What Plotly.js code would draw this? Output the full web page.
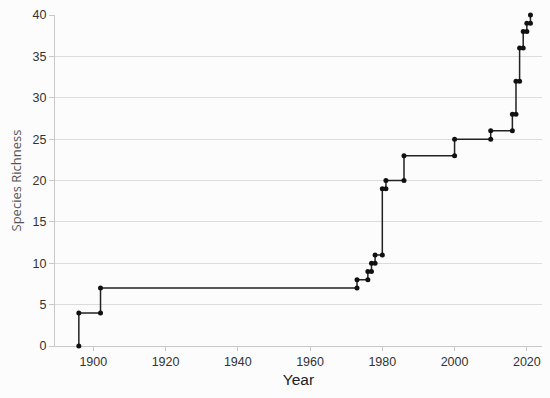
<!DOCTYPE html>
<html>
<head>
<meta charset="utf-8">
<script src="https://cdn.plot.ly/plotly-3.0.1.min.js"></script>
<style>html,body{margin:0;padding:0;background:#fcfcfc;}#chart{width:550px;height:398px;}</style>
</head>
<body>
<div id="chart"></div>
<script>
// Year a new species was recorded, and cumulative richness after it
const startYear = 1896;
const startRichness = 0;
const years = [1896, 1902, 1973, 1976, 1977, 1978, 1980, 1981, 1986, 2000, 2010, 2016, 2017, 2018, 2019, 2020, 2021];
const richness = [4, 7, 8, 9, 10, 11, 19, 20, 23, 25, 26, 28, 32, 36, 38, 39, 40];
const xTicks = [1900, 1920, 1940, 1960, 1980, 2000, 2020];
const yTicks = [0, 5, 10, 15, 20, 25, 30, 35, 40];

// step vertices: vertical rise at each year, then flat until next year
const xs = [startYear], ys = [startRichness];
let prev = startRichness;
for (let i = 0; i < years.length; i++) {
  if (i > 0) { xs.push(years[i]); ys.push(prev); }
  xs.push(years[i]); ys.push(richness[i]);
  prev = richness[i];
}

const trace = {
  x: xs, y: ys, type: 'scatter', mode: 'lines+markers',
  line: {color: '#222', width: 1.5},
  marker: {color: '#111', size: 5},
  cliponaxis: false, hoverinfo: 'x+y'
};

const layout = {
  width: 550, height: 398,
  paper_bgcolor: '#fcfcfc', plot_bgcolor: '#fcfcfc',
  margin: {l: 55, r: 8, t: 15, b: 52},
  showlegend: false,
  font: {family: 'Liberation Sans, Arial, sans-serif', color: '#333', size: 12},
  xaxis: {
    range: [1889.4, 2024.2], tickvals: xTicks, ticktext: xTicks.map(String),
    showgrid: false, zeroline: false, showline: true, linecolor: '#c8c8c8', linewidth: 1,
    ticks: 'outside', ticklen: 4, tickcolor: '#c8c8c8', layer: 'below traces',
    tickfont: {size: 12.5, color: '#333'},
    title: {text: 'Year', font: {size: 15.5, color: '#222'}, standoff: 6}
  },
  yaxis: {
    range: [0, 40], tickvals: yTicks, ticktext: yTicks.map(String),
    showgrid: true, gridcolor: '#dcdcdc', gridwidth: 1, zeroline: false,
    showline: true, linecolor: '#c8c8c8', linewidth: 1,
    ticks: 'outside', ticklen: 5, tickcolor: '#c8c8c8', layer: 'below traces',
    tickfont: {size: 12.5, color: '#333'},
    title: {text: 'Species Richness', font: {family: 'Open Sans, sans-serif', size: 13, color: '#555'}, standoff: 8}
  }
};

Plotly.newPlot('chart', [trace], layout, {displayModeBar: false, staticPlot: true});
</script>
</body>
</html>
